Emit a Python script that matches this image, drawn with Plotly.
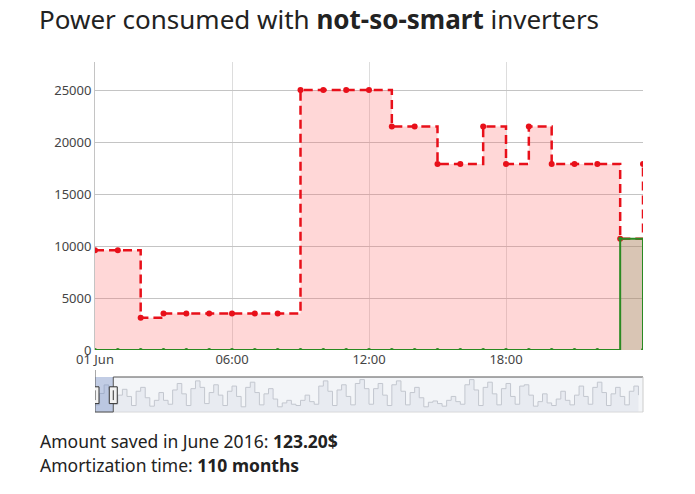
import pandas as pd
import plotly.graph_objects as go

# one day, hourly, plus first point of the next day
hours = pd.date_range("2016-06-01 00:00", periods=25, freq="h")
consumed = [9600, 9600, 3100, 3500, 3500, 3500, 3500, 3500, 3500, 25000, 25000, 25000,
            25000, 21500, 21500, 17900, 17900, 21500, 17900, 21500, 17900, 17900, 17900,
            10700, 17900]
smart = [0] * 23 + [10700, 0]

# navigator: whole month, 6-hour blocks (rough read of the mini chart)
month_blocks = pd.date_range("2016-06-01 00:00", periods=120, freq="6h")
month_values = [
    5500, 14300, 20900, 17300, 6000, 13000, 17500, 12000, 5000, 16000, 19000, 11000,
    4500, 9000, 15000, 9000, 6000, 17000, 22000, 14000, 5000, 18000, 24000, 19000,
    6500, 15000, 21000, 13000, 5000, 16000, 20000, 12000, 4000, 19000, 23000, 15000,
    5500, 14000, 18000, 10000, 4000, 7000, 9000, 6000, 5000, 9000, 13000, 8000,
    6000, 20000, 24000, 16000, 5000, 17000, 21000, 12000, 5500, 22000, 25000, 18000,
    6000, 18000, 22000, 13000, 5000, 21000, 24000, 16000, 5500, 15000, 19000, 11000,
    4000, 7500, 8500, 6500, 4500, 9000, 12000, 8000, 6000, 21000, 25000, 17000,
    5000, 19000, 23000, 14000, 5500, 18000, 22000, 12000, 6000, 20000, 21000, 13000,
    4500, 8000, 14000, 7000, 5000, 10000, 16000, 9000, 5500, 13000, 20000, 12000,
    6000, 19000, 23000, 15000, 5000, 14000, 19000, 12000, 5500, 16000, 20000, 13000,
]

tick_vals = ["2016-06-01 00:00", "2016-06-01 06:00", "2016-06-01 12:00", "2016-06-01 18:00"]
tick_text = ["01 Jun", "06:00", "12:00", "18:00"]

font = "Noto Sans"
W, H = 695, 494
# page body adds an 8px offset, so positions below are screen minus 8
L, R, T, B = 87, 635, 54, 404
PW, PH = R - L, B - T

fig = go.Figure()

fig.add_trace(go.Scatter(
    x=hours, y=consumed, mode="lines+markers", line_shape="hv",
    line=dict(color="#e8101a", width=2.5, dash="9px,5px"),
    marker=dict(color="#e8101a", size=6),
    fill="tozeroy", fillcolor="rgba(255,110,110,0.28)",
    xaxis="x", yaxis="y",
))
fig.add_trace(go.Scatter(
    x=hours, y=smart, mode="lines+markers", line_shape="hv",
    line=dict(color="#2a8a22", width=2),
    marker=dict(color="#2a8a22", size=4),
    fill="tozeroy", fillcolor="rgba(120,150,90,0.28)",
    xaxis="x", yaxis="y",
))
fig.add_trace(go.Scatter(
    x=month_blocks, y=month_values, mode="lines", line_shape="hv",
    line=dict(color="#c3c7cf", width=1),
    fill="tozeroy", fillcolor="rgba(215,220,230,0.4)",
    xaxis="x2", yaxis="y2", hoverinfo="skip",
))

shapes = [
    # navigator background
    dict(type="rect", xref="x2 domain", yref="y2 domain", x0=0, x1=1, y0=0, y1=1,
         fillcolor="#f3f5f8", line_width=0, layer="below"),
    # selected day mask
    dict(type="rect", xref="x2", yref="y2 domain", x0="2016-06-01", x1="2016-06-02",
         y0=0, y1=1, fillcolor="rgba(102,133,194,0.35)", line_width=0, layer="above"),
    # outline
    dict(type="line", xref="x2", yref="y2 domain", x0="2016-06-01", x1="2016-06-02",
         y0=0, y1=0, line=dict(color="#555555", width=1)),
    dict(type="line", xref="x2", yref="y2 domain", x0="2016-06-02", x1="2016-07-01",
         y0=1, y1=1, line=dict(color="#555555", width=1)),
    dict(type="line", xref="x2", yref="y2 domain", x0="2016-06-01", x1="2016-06-01",
         y0=0, y1=1.2, line=dict(color="#555555", width=1)),
    dict(type="line", xref="x2", yref="y2 domain", x0="2016-06-02", x1="2016-06-02",
         y0=0, y1=1, line=dict(color="#555555", width=1)),
    dict(type="line", xref="x2 domain", yref="y2 domain", x0=1, x1=1,
         y0=0, y1=1, line=dict(color="#cccccc", width=1)),
    dict(type="line", xref="x2 domain", yref="y2 domain", x0=0, x1=1,
         y0=0, y1=0, line=dict(color="#d8d8d8", width=1), layer="below"),
]
for anchor in ["2016-06-01", "2016-06-02"]:
    shapes.append(dict(type="rect", xref="x2", yref="y2 domain", xsizemode="pixel",
                       xanchor=anchor, x0=-4, x1=4, y0=0.24, y1=0.72,
                       fillcolor="#f2f2f2", line=dict(color="#333333", width=1)))
    shapes.append(dict(type="line", xref="x2", yref="y2 domain", xsizemode="pixel",
                       xanchor=anchor, x0=0, x1=0, y0=0.34, y1=0.62,
                       line=dict(color="#333333", width=1)))

fig.update_layout(
    width=W, height=H,
    margin=dict(l=L, r=W - R, t=T, b=H - B, autoexpand=False),
    paper_bgcolor="white", plot_bgcolor="white",
    showlegend=False,
    font=dict(family=font, color="#333333"),
    title=dict(
        text="Power consumed with <b>not-so-smart</b> inverters",
        xref="container", x=31 / W, xanchor="left",
        yref="container", y=1 - 3 / H, yanchor="top", pad=dict(t=0, b=0),
        font=dict(family=font, size=26, color="#222222"),
    ),
    xaxis=dict(
        domain=[0, 1], anchor="y",
        range=["2016-06-01 00:00", "2016-06-02 00:00"],
        tickvals=tick_vals, ticktext=tick_text,
        showgrid=True, gridcolor="#dddddd", gridwidth=1,
        zeroline=False, showline=False, ticks="",
        tickfont=dict(size=13, color="#444444"),
    ),
    yaxis=dict(
        domain=[62 / PH, 1], anchor="x",
        range=[0, 27700], tickvals=[0, 5000, 10000, 15000, 20000, 25000],
        tickformat="d",
        showgrid=True, gridcolor="#c4c4c4", gridwidth=1,
        zeroline=False, showline=True, linecolor="#c4c4c4", linewidth=1,
        ticks="", tickfont=dict(size=13, color="#444444"),
    ),
    xaxis2=dict(
        domain=[0, 1], anchor="y2",
        range=["2016-06-01", "2016-07-01"],
        showticklabels=False, showgrid=False, zeroline=False, ticks="",
    ),
    yaxis2=dict(
        domain=[0, 35 / PH], anchor="x2",
        range=[0, 27000], showticklabels=False, showgrid=False, zeroline=False,
    ),
    shapes=shapes,
    annotations=[
        dict(text="Amount saved in June 2016: <b>123.20$</b>", xref="paper", yref="paper",
             x=(30 - L) / PW, y=(B - 433) / PH, xanchor="left", yanchor="middle",
             showarrow=False, font=dict(family=font, size=17.5, color="#222222")),
        dict(text="Amortization time: <b>110 months</b>", xref="paper", yref="paper",
             x=(30 - L) / PW, y=(B - 457) / PH, xanchor="left", yanchor="middle",
             showarrow=False, font=dict(family=font, size=17.5, color="#222222")),
    ],
)

fig.write_html("out.html")
